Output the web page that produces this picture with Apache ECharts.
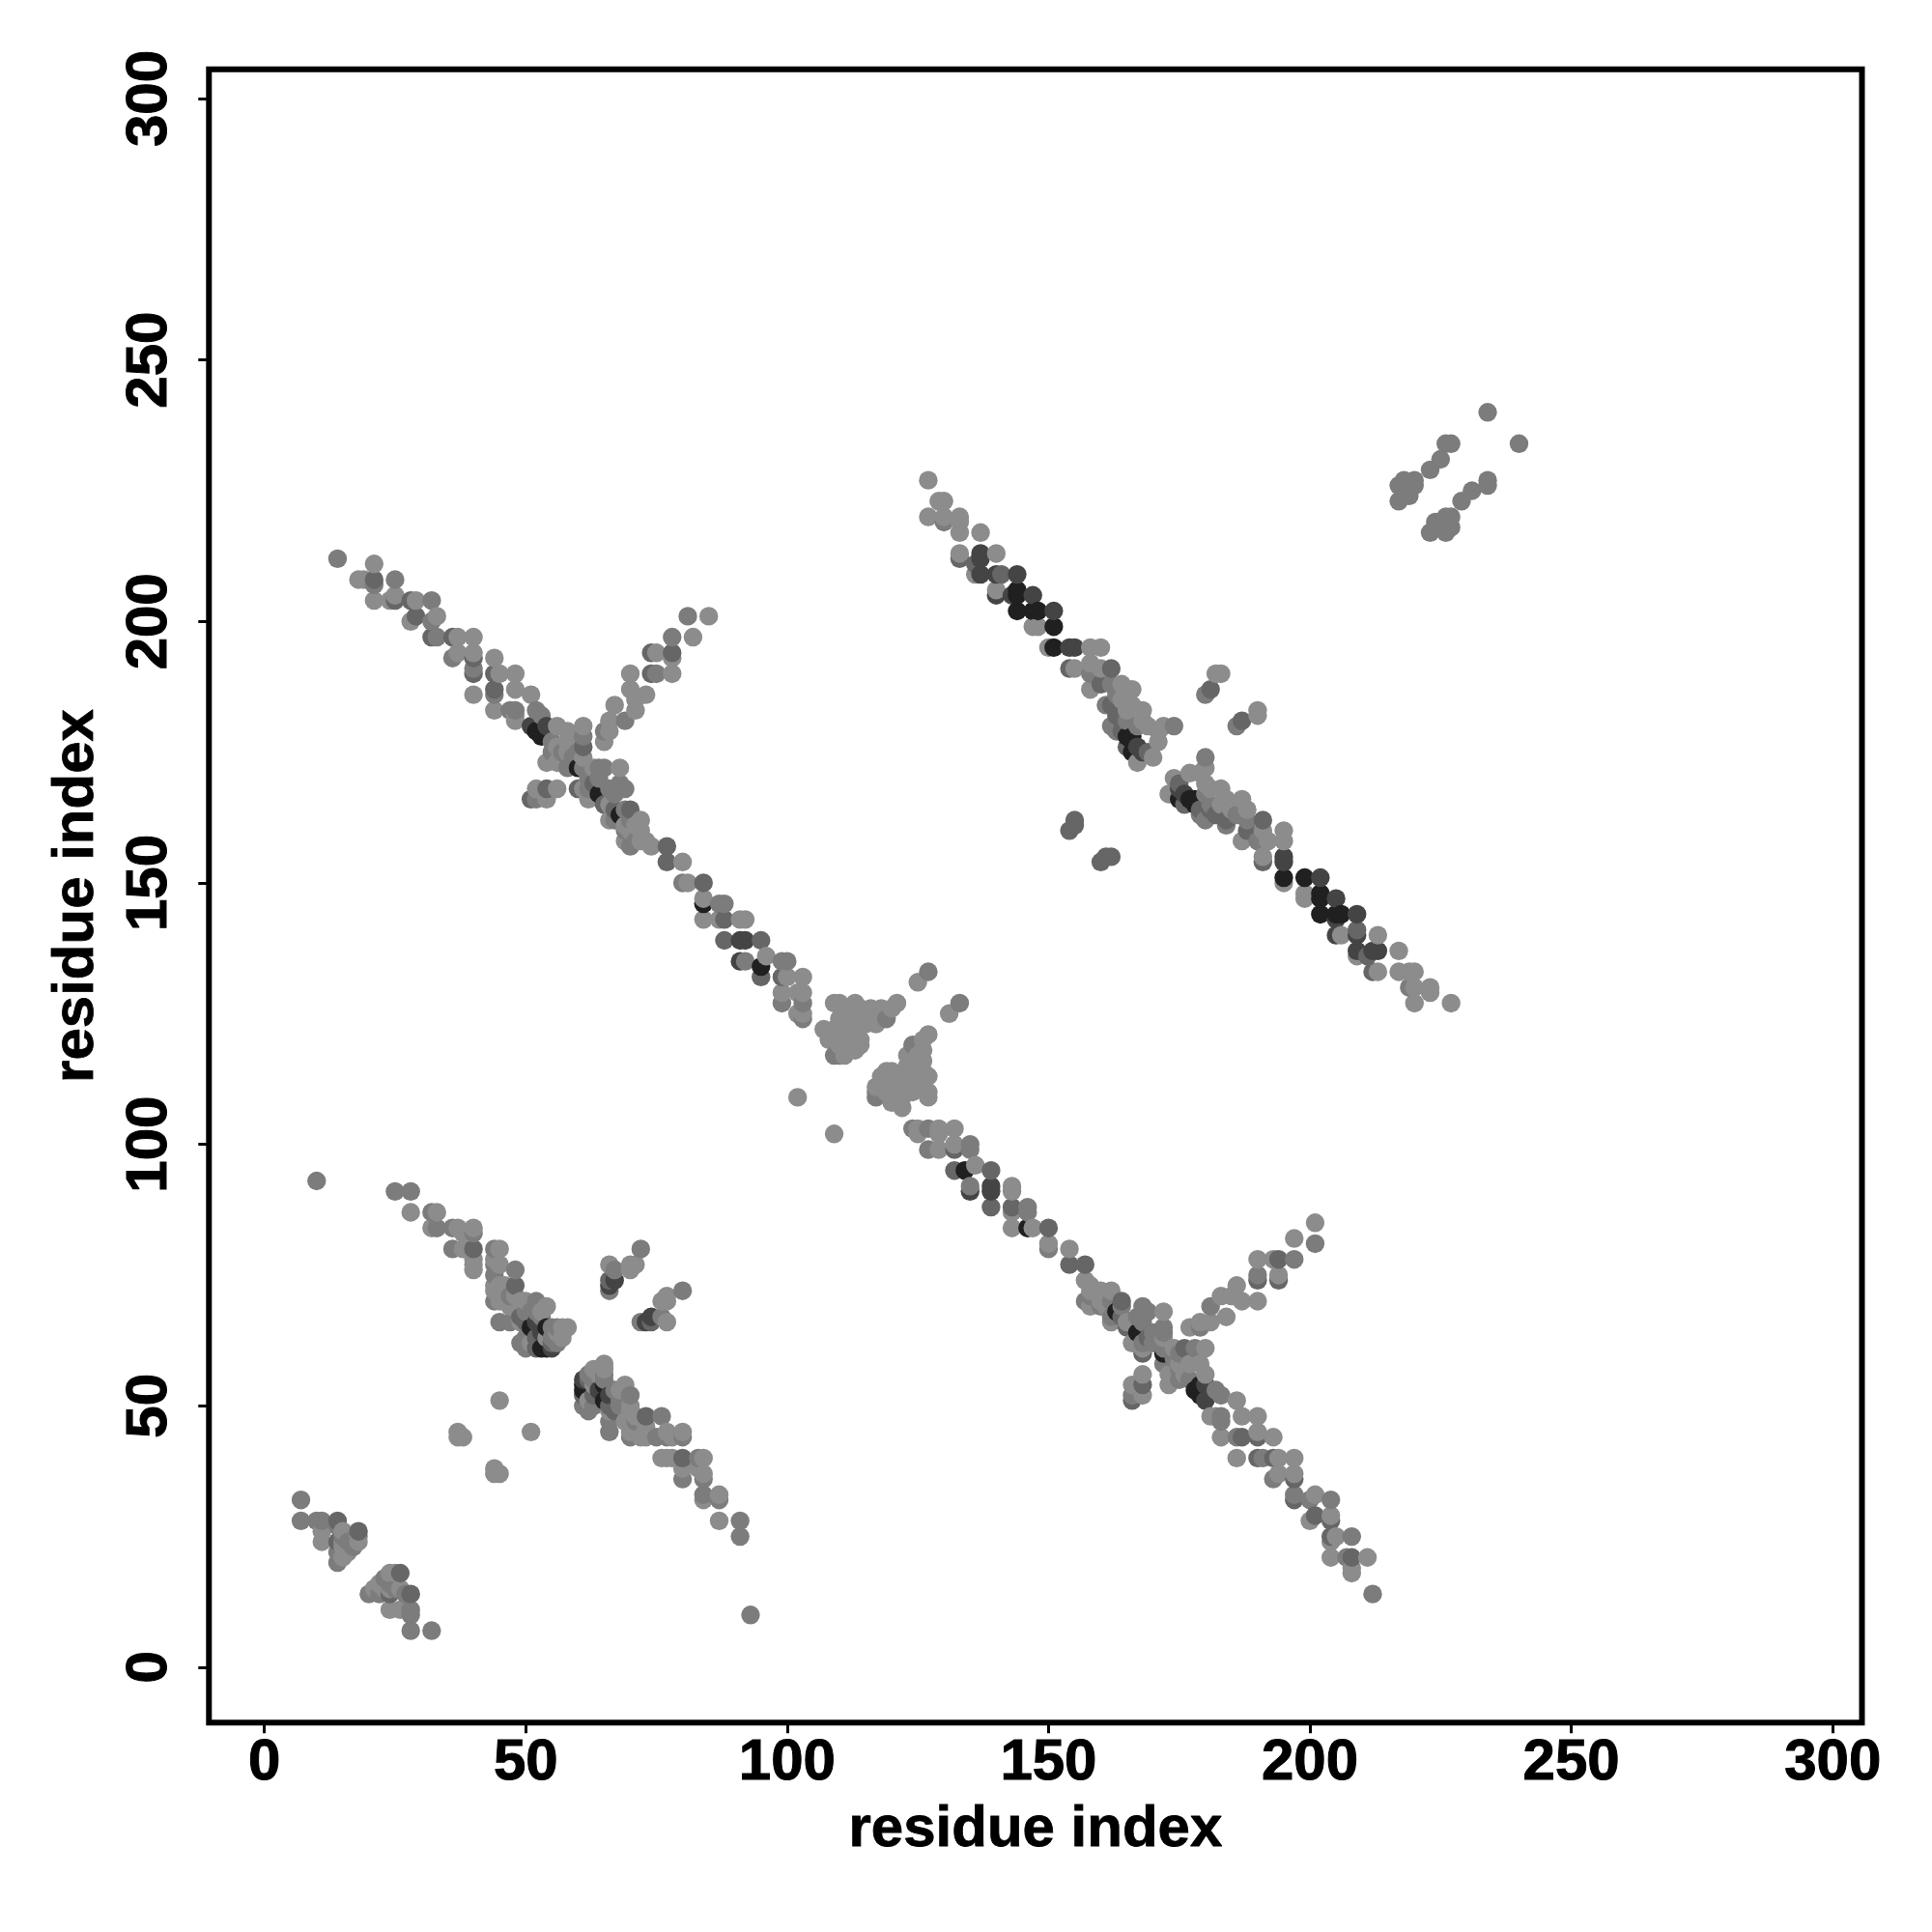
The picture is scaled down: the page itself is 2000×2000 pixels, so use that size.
<!DOCTYPE html>
<html>
<head>
<meta charset="utf-8">
<style>html,body{margin:0;padding:0;background:#fff}#c{width:2000px;height:2000px}</style>
<script src="https://cdn.jsdelivr.net/npm/echarts@6/dist/echarts.min.js"></script>
</head>
<body>
<div id="c"></div>
<script>
// Each entry: [residue i, residue j, contact strength 1 (weak) .. 5 (strong)]
// The contact map is symmetric, so only pairs with i < j are listed.
const lowerBand = [
[10,93,2],[25,91,2],[28,91,2],[28,87,1],[32,87,2],[33,87,1],[32,84,1],[33,84,2],[36,84,2],[37,84,1],[38,83,1],[40,84,1],[40,83,2],[36,80,2],[38,80,1],[40,80,3],[40,78,1],[40,77,1],[40,76,1],
[44,80,2],[45,80,1],[44,78,1],[44,77,2],[45,77,1],[44,75,2],[44,73,1],[45,73,1],[44,72,1],[44,70,2],[45,70,1],[45,66,2],[48,76,2],[48,73,3],[49,70,1],[47,66,2],[49,67,3],[49,66,1],[49,62,2],
[52,70,2],[54,69,1],[52,66,4],[51,65,5],[54,65,5],[55,65,2],[56,65,2],[57,65,1],[58,65,1],[53,61,5],[54,61,5],[55,61,4],[56,62,2],[51,62,1],[52,63,3],[50,61,2],[54,63,1],[50,66,3],
[46,73,1],[46,71,1],[47,71,2],[47,69,1],[48,71,1],[50,70,1],[50,68,2],[51,68,2],[52,68,2],[53,68,1],[53,67,2],[50,63,2],[52,61,3],[53,64,4],[55,63,2],[56,64,1],[57,63,1],[55,62,3]
];
const lowerArms = [
[66,77,1],[67,76,2],[66,74,3],[67,74,4],[66,73,4],[66,72,2],[70,77,1],[71,77,1],[70,76,1],[72,80,2],
[37,45,1],[38,44,1],[37,44,1],[45,51,1]
];
const cornerBand = [
[7,32,2],[7,28,2],[10,28,2],[11,28,2],[14,28,3],[11,26,1],[11,24,1],[14,24,3],[14,27,2],[15,26,1],[18,26,3],[18,25,1],[18,24,1],[17,23,2],[15,23,1],[14,20,2],[15,21,1],
[14,22,2],[15,24,1],[16,24,2],[16,22,1],[15,25,2]
];
const longBand = [
[14,212,2],[21,211,1],[18,208,1],[19,208,1],[21,208,3],[21,207,2],[25,208,2],[21,204,1],[24,204,1],[25,205,1],[25,204,3],
[28,204,3],[29,204,1],[32,204,2],[28,200,1],[29,201,3],[33,201,1],[32,200,2],[32,197,3],[33,197,2],[36,197,3],[37,197,1],[40,197,1],
[36,193,2],[37,194,1],[40,194,1],[40,193,3],[40,191,2],[40,190,3],[40,186,1],
[44,193,1],[44,190,3],[45,190,1],[48,190,1],[44,187,3],[44,186,2],[44,183,1],
[48,187,1],[51,186,1],[47,183,2],[48,183,2],[48,182,1],[48,181,1],[52,183,2],[53,182,2],[51,180,4],[54,180,4],[53,178,5],[52,179,5],[54,179,5],[56,180,1],[58,179,1],[55,177,2],[54,173,1],[56,173,1],[58,177,1],[58,172,2],
[55,175,2],[56,176,1],[57,175,2],[58,175,1],[59,174,2],[60,175,2],
[60,172,5],[60,168,3],[61,180,1],[61,178,2],[61,176,3],[61,174,1],[61,172,2],[61,168,1],[62,166,1],[64,172,2],[65,172,2],[68,172,1],[64,167,5],[64,170,2],[65,165,3],[66,162,1],[69,168,2],[68,169,2],[68,163,5],[69,158,1],[69,164,2],[70,164,3],[72,162,1],[72,160,1],[70,157,2],[74,157,1],[77,157,3],[77,154,3],[80,154,1],
[62,170,2],[63,169,3],[62,168,2],[63,172,1],[66,168,2],[67,167,2],[66,165,1],[67,162,2],[67,164,3],[70,160,1],[71,158,2],[72,158,1],[73,158,1],[70,162,2],[71,161,1],[69,161,1],[69,160,2],
[80,150,2],[81,150,1],[84,150,3],[84,147,1],[84,146,5],[87,146,2],[88,146,2],[84,143,1],[87,143,1],[88,143,3],[91,143,1],[92,143,1],[88,139,3],[91,139,4],[92,139,4],[95,139,3],
[91,135,4],[92,135,2],[96,136,1],[95,134,5],[95,132,3],[99,135,2],[100,135,2],[99,132,3],[100,132,1],[103,132,1],[99,129,1],[99,127,2],[102,129,1],[103,129,1],[103,127,2],[102,125,1],[103,125,1],[103,124,2],
[102,109,1],[109,127,1],[110,127,1],[113,127,1],[114,126,1],[118,126,1],[121,127,1],[120,126,1],[117,123,1],[119,124,2],[107,122,1],[109,122,1],[111,123,1],[113,124,1],[114,123,1],[114,120,1],[109,117,2],[110,117,2],[111,117,1],[110,119,1],[112,120,1],[114,119,1],[115,123,1],[109,121,1],[125,131,1],[127,133,2],
[110,122,1],[111,121,1],[113,121,1],[112,118,1],[113,118,1],[111,119,1],[116,124,1],[115,125,1],[116,126,1],[117,125,1],[112,125,1],[111,125,1],[110,124,1],[108,120,1]
];
const longBandExtras = [
[52,168,1],[54,168,3],[56,168,1],[52,166,2],[54,166,1],[51,166,3],
[66,181,1],[65,179,2],[66,179,1],[65,177,1],[67,184,1],[69,181,2],[70,190,1],[70,187,1],[73,186,1],[71,185,1],[71,183,1],[74,194,3],[75,194,1],[78,197,2],[78,194,3],[78,193,1],[78,190,1],[74,190,3],[75,190,2],[81,201,2],[85,201,1],[82,197,1]
];
const upperBand = [
[127,227,1],[129,223,1],[130,223,1],[127,220,1],[130,220,1],[130,219,2],[133,220,1],[133,219,1],[133,217,1],[137,217,1],
[133,213,1],[133,212,3],[137,213,4],[137,212,4],[140,213,1],[136,211,3],[136,209,1],[137,209,4],[140,209,4],[141,209,3],[144,209,4],
[140,206,1],[140,205,4],[144,206,5],[143,205,4],[144,205,5],[147,205,4],[144,202,5],[147,202,5],[148,202,5],[151,202,4],[147,199,1],[148,199,1],[151,199,5],
[150,195,1],[151,195,5],[154,195,4],[155,195,4],[158,195,1],[160,195,1],[154,191,3],[155,191,1],[158,192,1],[158,190,2],[160,191,1],[162,191,3],
[158,187,1],[160,188,3],[162,188,2],[164,188,1],[166,187,1],[161,184,2],[162,184,3],[166,184,1],[162,180,2],[164,181,3],[168,181,1],[165,178,5],[166,178,5],[169,175,3],[167,173,1],[166,175,5],[167,176,4],[171,177,1],[172,180,1],[174,180,2],[171,179,1],
[170,174,1],[163,186,2],[164,185,1],[165,183,1],[165,181,2],[167,180,2],[168,183,1],[163,182,3],[164,179,3],[166,177,5],[168,175,4],[169,180,1],[163,179,2],[165,176,3]
];
const upperArms = [
[180,186,2],[181,187,3],[182,190,1],[183,190,1],[155,162,3],[154,160,3],[155,161,3]
];
const topBand = [
[234,240,2],[226,234,2],[227,234,2],[225,231,2],[223,229,2],[220,227,2],[218,227,2],[217,226,2],[219,225,2],[220,226,2],[217,223,2],[218,224,2],[218,225,2],[219,224,2]
];
const axisTicks = [0, 50, 100, 150, 200, 250, 300];
const axisTitle = 'residue index';
const strengthGreys = [null, '#8c8c8c', '#7c7c7c', '#666666', '#444444', '#202020'];

const halfMap = [].concat(lowerBand, lowerArms, cornerBand, longBand, longBandExtras, upperBand, upperArms, topBand);
const fullMap = halfMap.concat(halfMap.map(p => [p[1], p[0], p[2]]))
  .sort((a, b) => a[0] - b[0] || a[1] - b[1]);

const font = '"Liberation Sans", Arial, Helvetica, sans-serif';
function makeAxis(pos, rotate, gap, margin) {
  return {
    type: 'value', position: pos, min: -10.6, max: 305.6,
    name: axisTitle, nameLocation: 'middle', nameGap: gap,
    nameTextStyle: { color: '#000', fontFamily: font, fontWeight: 'bold', fontSize: 60, textBorderColor: '#000', textBorderWidth: 0.8 },
    axisLine: { show: false, onZero: false },
    splitLine: { show: false },
    axisTick: { show: true, length: 11, lineStyle: { color: '#000', width: 3 }, customValues: axisTicks },
    axisLabel: { show: true, rotate: rotate, margin: margin, color: '#000', fontFamily: font, fontWeight: 'bold', fontSize: 60, textBorderColor: '#000', textBorderWidth: 1, customValues: axisTicks, hideOverlap: false }
  };
}
const chart = echarts.init(document.getElementById('c'), null, { renderer: 'canvas', width: 2000, height: 2000 });
chart.setOption({
  animation: false,
  backgroundColor: '#fff',
  grid: { left: 216.3, right: 72.5, top: 71.7, bottom: 216.7, show: true, borderColor: '#000', borderWidth: 6, backgroundColor: 'transparent' },
  xAxis: makeAxis('bottom', 0, 81, 12),
  yAxis: makeAxis('left', 90, 107, 31),
  series: [{
    type: 'scatter',
    symbol: 'circle',
    symbolSize: 19.4,
    large: false,
    itemStyle: { opacity: 1 },
    data: fullMap.map(p => ({ value: [p[0], p[1]], itemStyle: { color: strengthGreys[p[2]], opacity: 1 } })),
    silent: true
  }]
});
</script>
</body>
</html>
